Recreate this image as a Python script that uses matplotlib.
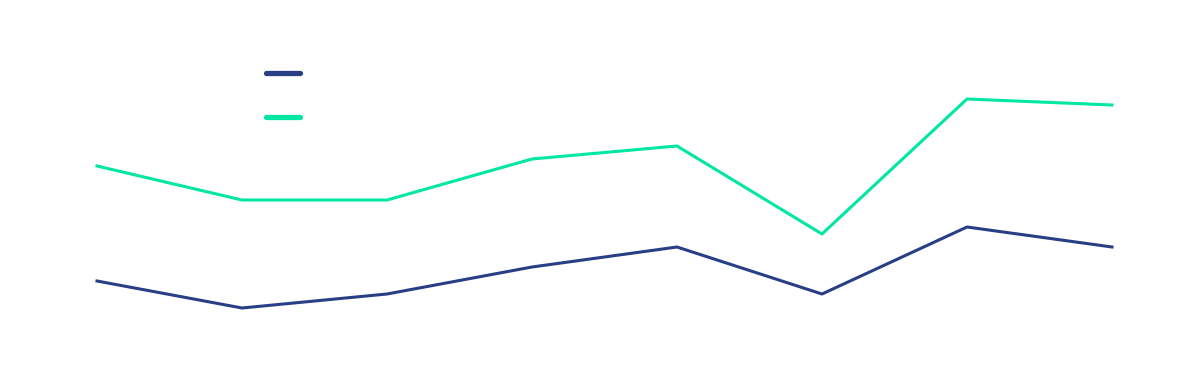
import matplotlib
matplotlib.use("Agg")
import matplotlib.pyplot as plt
from matplotlib.lines import Line2D

# values (arbitrary units, no axis shown)
points = list(range(8))
series_a = [90, 63, 77, 104, 124, 77, 144, 124]
series_b = [205, 171, 171, 212, 225, 137, 272, 266]
labels = ["", ""]

dark = "#283F86"
green = "#00E6A3"

fig = plt.figure(figsize=(11.77, 3.71), dpi=100)
ax = fig.add_axes([0, 0, 1, 1])
ax.plot(points, series_a, color=dark, lw=2.2)
ax.plot(points, series_b, color=green, lw=2.2)
ax.set_xlim(-97 / 145, 1080 / 145)
ax.set_ylim(0, 371)
ax.axis("off")

handles = [Line2D([], [], color=dark, lw=3.8, solid_capstyle="round"),
           Line2D([], [], color=green, lw=3.8, solid_capstyle="round")]
ax.legend(handles, labels, loc="upper left", bbox_to_anchor=(0.226, 0.82),
          frameon=False, handlelength=2.45, labelspacing=2.2, borderpad=0,
          borderaxespad=0)

fig.savefig("out.png", dpi=100)
